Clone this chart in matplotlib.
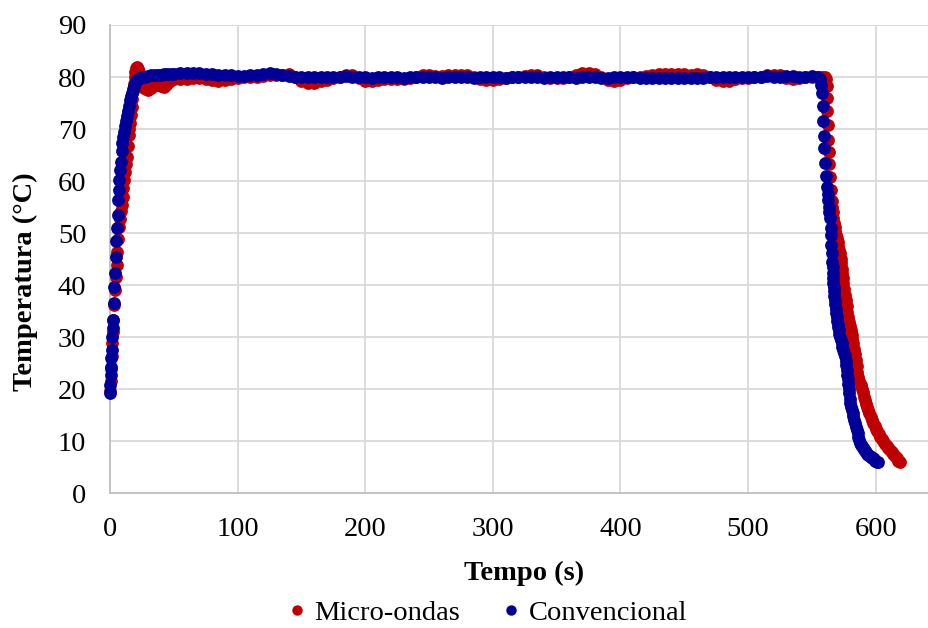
import numpy as np
import matplotlib
matplotlib.use('Agg')
import matplotlib.pyplot as plt
from matplotlib.lines import Line2D

plt.rcParams['font.family'] = ['Liberation Serif', 'DejaVu Serif']

# --- heating ramp (s, °C) ---
mw_heat_t = [0, 0.4, 0.8, 1.2, 1.8, 2.2, 2.6, 3.2, 3.9, 4.5, 5.2, 5.8, 6.4, 7.1, 7.8,
             8.5, 9.2, 9.9, 10.5, 11.2, 11.8, 12.5, 13.1, 13.8, 14.5, 15.1, 15.7, 16.3,
             17.0, 17.6, 18.2, 18.7, 19.2, 19.7, 20.3, 21.0, 21.8, 22.6, 23.4, 24.2,
             25.0, 26.5, 28, 30, 32, 34, 36, 38, 40, 42, 44, 46, 48, 50]
mw_heat_T = [19.6, 21.5, 23.8, 26.3, 28.8, 31.0, 33.3, 36.2, 39.1, 41.5, 43.9, 46.3, 48.8,
             51.2, 52.8, 54.2, 55.4, 57.0, 58.6, 60.2, 61.7, 63.2, 64.7, 66.8, 68.8, 70.0,
             71.1, 72.7, 74.3, 75.8, 77.3, 78.7, 80.0, 81.0, 81.7, 81.9, 81.6, 80.9, 79.9,
             79.0, 78.4, 77.9, 77.7, 77.6, 77.8, 78.2, 78.5, 78.6, 78.3, 78.1, 78.5, 79.0,
             79.4, 79.6]

conv_heat_t = [0, 0.3, 0.5, 0.8, 1.1, 1.3, 1.8, 2.2, 2.6, 3.1, 3.4, 3.9, 4.4, 4.9, 5.7,
               6.0, 6.5, 7.1, 7.3, 7.8, 8.4, 9.2, 9.7, 10.3, 11.0, 11.7, 12.5, 13.2, 14.0,
               14.8, 15.5, 16.2, 17.0, 17.7, 18.5, 19.2, 20.0, 21.0, 22.0, 23.5, 25, 27.5,
               30, 32.5, 35, 37.5, 40, 42.5, 45, 47.5, 50]
conv_heat_T = [19.2, 20.8, 22.7, 24.3, 26.0, 27.5, 30.1, 31.7, 33.3, 36.5, 39.7, 42.3,
               45.5, 48.4, 50.9, 53.5, 56.4, 58.3, 60.2, 62.1, 63.7, 65.7, 67.3, 68.4,
               69.5, 70.5, 71.5, 72.5, 73.5, 74.5, 75.5, 76.3, 77.0, 77.7, 78.3, 78.8,
               79.2, 79.5, 79.7, 79.9, 80.0, 80.1, 80.2, 80.3, 80.3, 80.4, 80.4, 80.5,
               80.5, 80.6, 80.6]

# --- holding plateau, logged every 5 s ---
plateau_t = np.arange(55, 556, 5)
mw_plateau_T = [79.6, 79.7, 79.8, 79.8, 79.7, 79.4, 79.3, 79.5, 79.7, 79.9,
                80.0, 80.0, 80.1, 80.2, 80.3, 80.3, 80.4, 80.5, 80.0, 79.3,
                78.9, 78.9, 79.2, 79.5, 79.8, 80.1, 80.4, 80.4, 79.8, 79.2,
                79.2, 79.4, 79.6, 79.6, 79.6, 79.7, 79.8, 80.1, 80.3, 80.3,
                80.2, 80.2, 80.3, 80.3, 80.4, 80.4, 80.1, 79.6, 79.5, 79.5,
                79.7, 79.9, 80.0, 80.1, 80.2, 80.3, 80.3, 80.1, 79.9, 79.8,
                79.9, 80.1, 80.4, 80.7, 80.7, 80.6, 80.0, 79.4, 79.3, 79.5,
                79.8, 80.0, 80.1, 80.2, 80.4, 80.5, 80.5, 80.5, 80.6, 80.5,
                80.4, 80.5, 80.4, 80.0, 79.4, 79.2, 79.3, 79.6, 79.8, 79.9,
                80.0, 80.1, 80.3, 80.4, 80.3, 79.8, 79.6, 79.8, 80.0, 80.1,
                80.1]
conv_plateau_T = [80.7, 80.8, 80.8, 80.7, 80.6, 80.5, 80.4, 80.3, 80.3, 80.2,
                  80.2, 80.3, 80.3, 80.5, 80.7, 80.5, 80.3, 80.2, 80.1, 80.0,
                  80.0, 80.1, 80.0, 80.0, 80.1, 80.1, 80.2, 80.1, 80.0, 80.0,
                  79.9, 80.0, 80.0, 80.1, 80.0, 79.9, 80.0, 80.0, 80.1, 80.0,
                  80.0, 79.9, 80.0, 80.1, 80.1, 80.0, 79.9, 80.0, 80.0, 80.1,
                  80.0, 79.9, 80.0, 80.0, 80.1, 80.0, 80.0, 79.9, 80.0, 80.0,
                  80.1, 80.0, 79.9, 80.0, 80.1, 80.0, 79.9, 79.9, 80.0, 80.0,
                  80.1, 80.0, 79.9, 79.8, 79.8, 79.9, 79.8, 79.8, 79.9, 79.8,
                  79.8, 79.9, 79.9, 80.0, 80.1, 80.0, 80.0, 80.1, 80.1, 80.0,
                  80.1, 80.1, 80.2, 80.1, 80.1, 80.2, 80.2, 80.1, 80.1, 80.2,
                  80.1]

# --- cooling ---
mw_cool_t = [558, 560, 561, 561.6, 562.0, 562.2, 562.4, 562.7, 563.2, 563.8, 564.3, 564.8,
             565.5, 566.0, 566.4, 566.9, 567.4, 567.9, 568.4, 569.0, 569.5, 570.1, 570.8,
             571.4, 572.0, 572.5, 573.0, 573.4, 573.8, 574.2, 574.7, 575.3, 576.0, 576.6,
             577.3, 577.9, 578.6, 579.2, 579.9, 580.5, 581.2, 581.8, 582.5, 583.1, 583.8,
             584.4, 585.1, 585.7, 586.4, 587.3, 588.2, 589.1, 590.0, 590.8, 591.7, 592.5,
             593.4, 594.2, 595.1, 596.0, 596.9, 598.0, 599.1, 600.1, 601.2, 602.3, 603.4,
             604.7, 606.0, 607.3, 608.7, 610.0, 611.3, 612.6, 613.9, 615.2, 616.5, 617.8,
             619.1]
mw_cool_T = [80.1, 80.0, 79.6, 78.3, 76.0, 73.5, 70.8, 67.9, 65.6, 63.2, 60.7, 58.3,
             56.2, 55.1, 54.0, 53.0, 52.0, 51.2, 50.5, 49.7, 49.0, 48.2, 47.5,
             46.8, 46.1, 45.1, 44.2, 43.2, 42.3, 41.3, 40.4, 39.3, 38.2, 37.1,
             36.0, 34.9, 33.9, 33.0, 32.2, 31.3, 30.5, 29.6, 28.8, 27.7, 26.7,
             25.6, 24.5, 23.4, 22.4, 21.6, 20.9, 20.1, 19.4, 18.6, 17.9, 17.2,
             16.6, 16.0, 15.4, 14.7, 14.1, 13.5, 13.0, 12.4, 11.9, 11.4, 10.9,
             10.4, 10.0, 9.5, 9.1, 8.7, 8.3, 7.9, 7.5, 7.1, 6.7, 6.3,
             6.0]

conv_cool_t = [556.5, 557.2, 557.7, 558.5, 559.0, 559.6, 559.8, 560.6, 561.1, 561.7, 562.3,
               562.8, 563.3, 563.8, 564.3, 564.7, 565.0, 565.3, 565.6, 566.0, 566.2, 566.4,
               566.6, 566.8, 567.1, 567.4, 567.7, 568.0, 568.4, 568.8, 569.1, 569.5, 569.9,
               570.3, 570.7, 571.1, 571.5, 572.0, 572.7, 573.3, 574.0, 574.6, 575.3, 576.0,
               576.5, 576.9, 577.3, 577.8, 578.2, 578.6, 579.0, 579.3, 579.7, 580.0, 580.7,
               581.3, 582.0, 582.6, 583.3, 583.9, 584.6, 585.2, 585.9, 586.5, 587.2, 587.8,
               588.6, 589.4, 590.2, 591.0, 591.8, 592.7, 593.5, 594.3, 595.2, 596.1, 597.0,
               597.9, 598.8, 599.8, 600.7, 601.6]
conv_cool_T = [79.6, 78.5, 76.9, 74.5, 71.6, 68.7, 66.3, 63.5, 60.9, 58.9, 57.6,
               56.3, 55.0, 54.0, 53.0, 51.0, 49.6, 47.8, 46.1, 44.5, 43.4, 42.4,
               41.4, 40.4, 39.6, 38.8, 38.0, 37.2, 36.3, 35.5, 34.7, 33.9, 33.2,
               32.6, 31.9, 31.3, 30.7, 30.1, 29.4, 28.8, 28.2, 27.6, 26.9, 26.3,
               25.4, 24.6, 23.7, 22.8, 21.9, 21.1, 20.1, 19.2, 18.2, 17.3, 16.6,
               16.0, 15.4, 14.8, 14.1, 13.5, 12.8, 12.2, 11.5, 10.9, 10.2, 9.6,
               9.3, 9.0, 8.7, 8.5, 8.2, 7.9, 7.6, 7.4, 7.2, 7.0, 6.8,
               6.7, 6.5, 6.3, 6.1, 6.0]

mw_t = np.concatenate([mw_heat_t, plateau_t, mw_cool_t])
mw_T = np.concatenate([mw_heat_T, mw_plateau_T, mw_cool_T])
conv_t = np.concatenate([conv_heat_t, plateau_t, conv_cool_t])
conv_T = np.concatenate([conv_heat_T, conv_plateau_T, conv_cool_T])

red = '#C00000'
blue = '#000099'

fig = plt.figure(figsize=(9.29, 6.28), dpi=100)
ax = fig.add_axes([110 / 929, (628 - 493.3) / 628, (929 - 110) / 929, (493.3 - 25) / 628])

ax.scatter(mw_t, mw_T, s=85, color=red, linewidths=0, clip_on=False, zorder=3)
ax.scatter(conv_t, conv_T, s=85, color=blue, linewidths=0, clip_on=False, zorder=4)

ax.set_xlim(0, 641.8)
ax.set_ylim(0, 90)
ax.set_xticks(range(0, 601, 100))
ax.set_yticks(range(0, 91, 10))
ax.grid(True, color='#D9D9D9', lw=1.3)
ax.set_axisbelow(True)
for side in ['top', 'right']:
    ax.spines[side].set_visible(False)
for side in ['left', 'bottom']:
    ax.spines[side].set_color('#BFBFBF')
    ax.spines[side].set_linewidth(1.3)
ax.tick_params(axis='both', length=0, labelsize=20.5)
ax.tick_params(axis='y', pad=17)
ax.tick_params(axis='x', pad=17)

fig.text(524 / 929, 1 - 573 / 628, 'Tempo (s)', ha='center', va='center',
         fontsize=20.5, fontweight='bold')
fig.text(25 / 929, 1 - 282 / 628, 'Temperatura (°C)', ha='center', va='center',
         rotation=90, fontsize=20.5, fontweight='bold')

handles = [Line2D([], [], ls='', marker='o', ms=7.5, color=red, mew=0),
           Line2D([], [], ls='', marker='o', ms=7.5, color=blue, mew=0)]
fig.legend(handles, ['Micro-ondas', 'Convencional'], loc='center',
           bbox_to_anchor=(485 / 929, 1 - 613 / 628), ncol=2, frameon=False,
           fontsize=20.5, handletextpad=0.1, columnspacing=1.3, handlelength=1.0,
           borderaxespad=0)

fig.savefig('out.png', dpi=100)
